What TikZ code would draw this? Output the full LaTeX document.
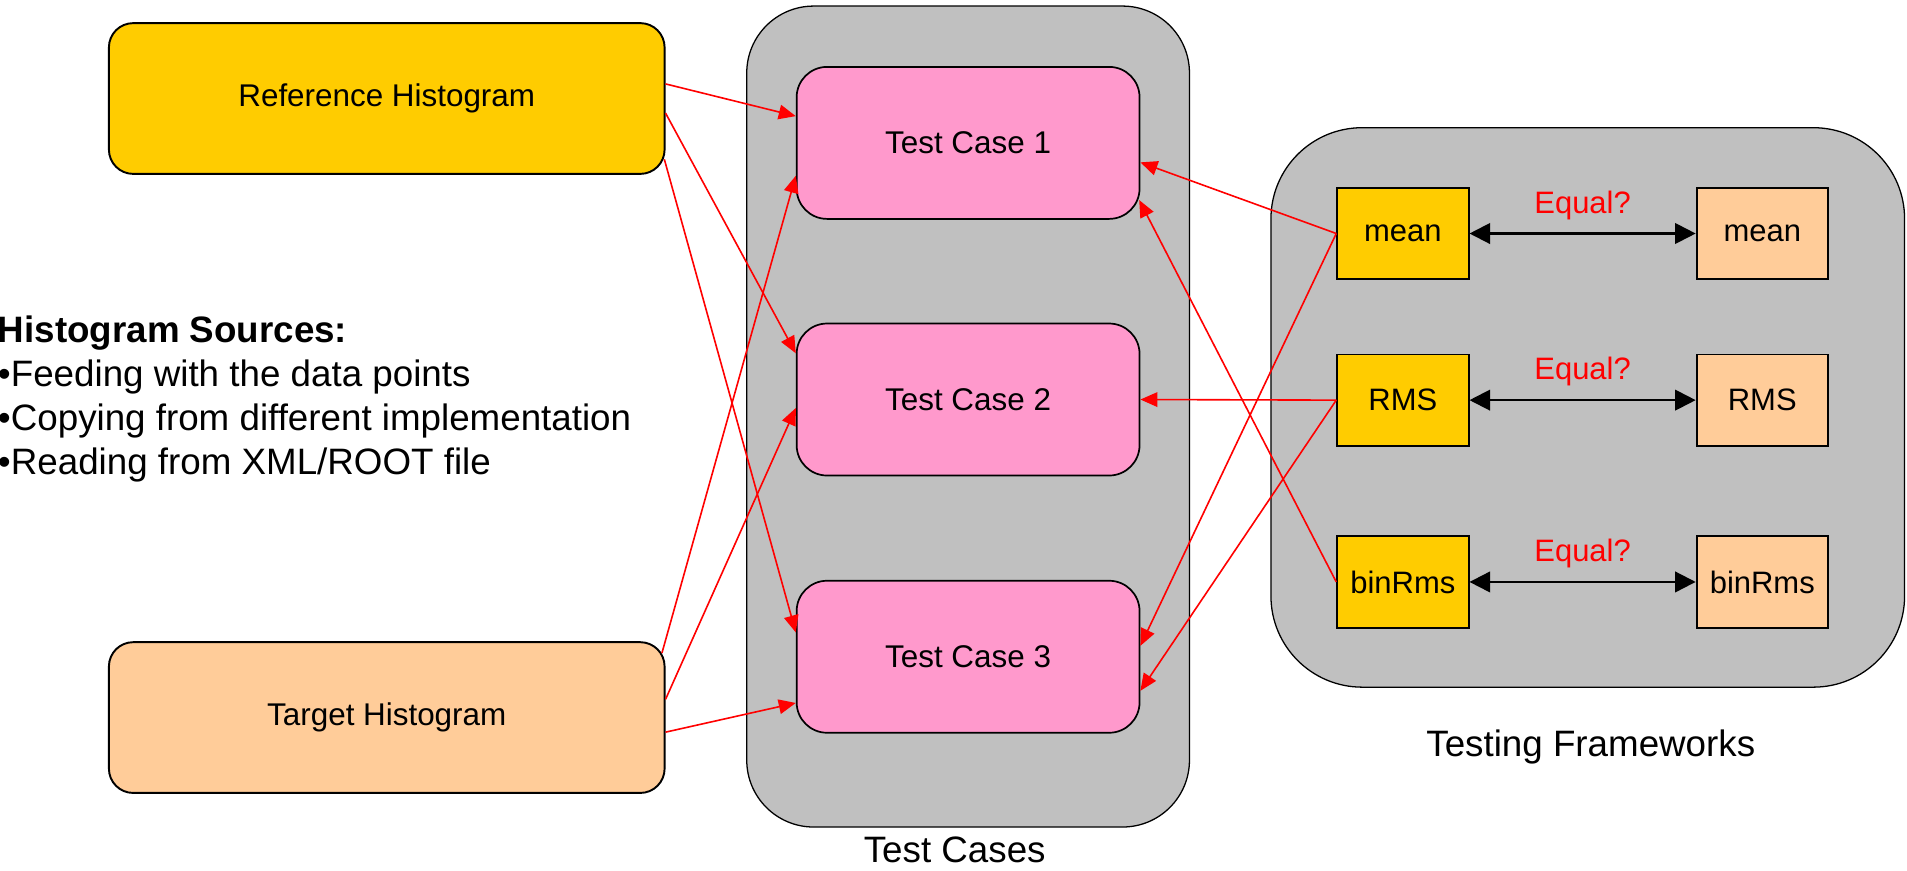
\documentclass[tikz,border=0pt]{standalone}
\usepackage{fontspec}
\setmainfont{Liberation Sans}
\usetikzlibrary{arrows.meta,calc}
\definecolor{histgold}{RGB}{255,204,0}
\definecolor{histpeach}{RGB}{255,204,153}
\definecolor{casepink}{RGB}{255,153,204}
\definecolor{panelgray}{RGB}{192,192,192}

\begin{document}
\begin{tikzpicture}[x=0.02cm, y=-0.02cm,
  histbox/.style={draw, line width=0.9pt, rounded corners=0.4cm, minimum width=9.14cm, minimum height=2.48cm, font=\fontsize{14.7pt}{17pt}\selectfont},
  casebox/.style={draw, line width=0.8pt, fill=casepink, rounded corners=0.5cm, minimum width=5.64cm, minimum height=2.5cm, font=\fontsize{14.7pt}{17pt}\selectfont},
  statbox/.style={draw, line width=0.9pt, minimum width=2.16cm, minimum height=1.5cm, inner sep=0pt, font=\fontsize{14.5pt}{17pt}\selectfont},
  panel/.style={draw, fill=panelgray, line width=0.6pt},
  feed/.style={red, line width=0.75pt, -{Triangle[length=0.28cm,width=0.24cm]}},
  compare/.style={line width=1pt, {Triangle[length=0.34cm,width=0.34cm]}-{Triangle[length=0.34cm,width=0.34cm]}},
  eqlabel/.style={red, font=\fontsize{14.5pt}{17pt}\selectfont, midway, above, inner sep=6pt},
  caption/.style={font=\fontsize{17.2pt}{20.7pt}\selectfont}
]
\useasboundingbox (0,0) rectangle (1568,716);

% containers
\draw[panel, rounded corners=1.1cm] (614,5) rectangle (978,680);
\node[caption] (casestitle) at (785,699) {Test Cases};
\draw[panel, rounded corners=1.5cm] (1045,105) rectangle (1566,565);
\node[caption] (frametitle) at (1308,614) {Testing Frameworks};

% histograms
\node[histbox, fill=histgold] (ref) at (318,81) {Reference Histogram};
\node[histbox, fill=histpeach] (tgt) at (318,590) {Target Histogram};
\node[caption, anchor=north west, inner sep=0pt, align=left] (sources) at (-2,259)
  {\textbf{Histogram Sources:}\\•Feeding with the data points\\•Copying from different implementation\\•Reading from XML/ROOT file};

% test cases
\node[casebox] (tc1) at (796,117.5) {Test Case 1};
\node[casebox] (tc2) at (796,328.5) {Test Case 2};
\node[casebox] (tc3) at (796,540) {Test Case 3};

% frameworks
\node[statbox, fill=histgold] (mean) at (1153.5,192) {mean};
\node[statbox, fill=histgold] (rms) at (1153.5,329) {RMS};
\node[statbox, fill=histgold] (binrms) at (1153.5,478.5) {binRms};
\node[statbox, fill=histpeach] (meanT) at (1449,192) {mean};
\node[statbox, fill=histpeach] (rmsT) at (1449,329) {RMS};
\node[statbox, fill=histpeach] (binrmsT) at (1449,478.5) {binRms};

\draw[compare] (mean) -- node[eqlabel] (eq1) {Equal?} (meanT);
\draw[compare] (rms) -- node[eqlabel] (eq2) {Equal?} (rmsT);
\draw[compare] (binrms) -- node[eqlabel] (eq3) {Equal?} (binrmsT);

% histogram to test case
\draw[feed] ($(ref.east)+(0,-12)$) -- ($(tc1.west)+(0,-22)$);
\draw[feed] ($(ref.east)+(0,12)$) -- ($(tc2.west)+(0,-38)$);
\draw[feed] ($(ref.east)+(-1,50)$) -- ($(tc3.west)+(0,-20)$);
\draw[feed] ($(tgt.east)+(-3,-53)$) -- ($(tc1.west)+(0,27)$);
\draw[feed] ($(tgt.east)+(0,-15)$) -- ($(tc2.west)+(0,7)$);
\draw[feed] ($(tgt.east)+(0,12)$) -- ($(tc3.west)+(0,38)$);

% framework to test case
\draw[feed] (mean.west) -- ($(tc1.east)+(0,16)$);
\draw[feed] (mean.west) -- ($(tc3.east)+(0,-9)$);
\draw[feed] (rms.west) -- (tc2.east);
\draw[feed] (rms.west) -- ($(tc3.east)+(0,28)$);
\draw[feed] (binrms.west) -- ($(tc1.east)+(-1,47)$);
\end{tikzpicture}
\end{document}
